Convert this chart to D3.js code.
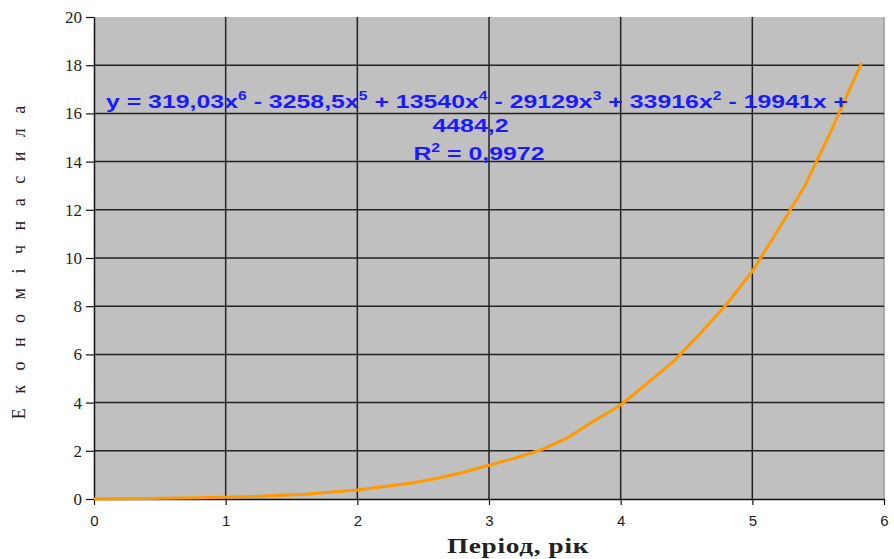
<!DOCTYPE html>
<html>
<head>
<meta charset="utf-8">
<script src="https://cdn.jsdelivr.net/npm/d3@7"></script>
<style>
  body { margin: 0; background: #fff; }
  svg { display: block; }
</style>
</head>
<body>
<div id="chart"></div>
<script>
let width = 790;
let height = 482;
let margins = { top: 17, right: 10, bottom: 60, left: 94 };

// Період, рік (x) and Економічна сила (y)
let periods = [0, 0.4, 0.8, 1.2, 1.6, 2.0, 2.4, 2.6, 2.8, 3.0, 3.2, 3.4, 3.6, 3.8,
               4.0, 4.2, 4.4, 4.6, 4.8, 5.0, 5.2, 5.4, 5.6, 5.83];
let strength = [0, 0.02, 0.05, 0.1, 0.2, 0.37, 0.65, 0.85, 1.1, 1.4, 1.7, 2.05, 2.55, 3.25,
                3.9, 4.8, 5.7, 6.85, 8.05, 9.45, 11.2, 13.0, 15.3, 18.1];
let xTicks = [0, 1, 2, 3, 4, 5, 6];
let yTicks = [0, 2, 4, 6, 8, 10, 12, 14, 16, 18, 20];

let data = periods.map((p, i) => ({ x: p, y: strength[i] }));

let svg = d3.select("#chart")
    .append('svg')
    .attr('width', 894)
    .attr('height', 559)
    .append('g')
    .attr('transform', 'translate(' + margins.left + ',' + margins.top + ')');

var x = d3.scaleLinear().domain([0, 6]).range([0, width]);
var y = d3.scaleLinear().domain([0, 20]).range([height, 0]);

// plot background
svg.append('rect')
    .attr('width', width)
    .attr('height', height)
    .style('fill', '#c0c0c0');

// right border
svg.append('line')
    .attr('x1', width).attr('x2', width)
    .attr('y1', 0).attr('y2', height)
    .style('stroke', '#9a9a9a')
    .style('stroke-width', 1.5);

// gridlines
svg.append('g')
    .selectAll('line')
    .data(yTicks.filter(d => d > 0 && d < 20))
    .enter()
    .append('line')
    .attr('x1', 0).attr('x2', width)
    .attr('y1', d => y(d)).attr('y2', d => y(d))
    .style('stroke', '#222')
    .style('stroke-width', 1.5);
svg.append('g')
    .selectAll('line')
    .data(xTicks.filter(d => d > 0 && d < 6))
    .enter()
    .append('line')
    .attr('x1', d => x(d)).attr('x2', d => x(d))
    .attr('y1', 0).attr('y2', height)
    .style('stroke', '#222')
    .style('stroke-width', 1.5);

// axes
let xAxis = svg.append('g')
    .attr('class', 'xaxis axis')
    .attr('transform', 'translate(0,' + height + ')')
    .call(d3.axisBottom(x).tickValues(xTicks).tickFormat(d3.format('d'))
        .tickSize(6).tickPadding(10).tickSizeOuter(0));
let yAxis = svg.append('g')
    .attr('class', 'yaxis axis')
    .call(d3.axisLeft(y).tickValues(yTicks).tickSize(8).tickPadding(4).tickSizeOuter(0));

[xAxis, yAxis].forEach(a => {
    a.select('.domain').style('stroke', '#111').style('stroke-width', 1.5);
    a.selectAll('.tick line').style('stroke', '#111').style('stroke-width', 1.2);
    a.selectAll('.tick text')
        .style('font-family', 'Liberation Sans, Arial, sans-serif')
        .style('font-size', '15px')
        .style('fill', '#222');
});
yAxis.selectAll('.tick text')
    .style('font-family', 'Liberation Serif, Times New Roman, serif')
    .style('font-size', '17px');

// curve
svg.append('path')
    .datum(data)
    .attr('d', d3.line().x(d => x(d.x)).y(d => y(d.y)))
    .style('fill', 'none')
    .style('stroke', '#ff9900')
    .style('stroke-width', 3)
    .style('stroke-linejoin', 'round');

// trendline equation (text in the source is stretched sideways)
let eq = svg.append('g')
    .attr('transform', 'translate(383,0) scale(1.31,1)')
    .style('font-family', 'Liberation Sans, Arial, sans-serif')
    .style('font-weight', 'bold')
    .style('font-size', '19px')
    .style('fill', '#1a1aff')
    .attr('text-anchor', 'middle');

function writeParts(t, parts) {
    let shift = 0;
    parts.forEach(p => {
        t.append('tspan').attr('dy', shift).text(p[0]);
        shift = 0;
        if (p[1]) {
            t.append('tspan').attr('dy', -8).style('font-size', '12px').text(p[1]);
            shift = 8;
        }
    });
}

let line1 = eq.append('text').attr('x', 0).attr('y', 91);
writeParts(line1, [['y = 319,03x', '6'], [' - 3258,5x', '5'], [' + 13540x', '4'],
                   [' - 29129x', '3'], [' + 33916x', '2'], [' - 19941x +', null]]);
eq.append('text').attr('x', -5).attr('y', 115).text('4484,2');
let line3 = eq.append('text').attr('x', 1.5).attr('y', 143);
writeParts(line3, [['R', '2'], [' = 0,9972', null]]);

// axis titles
svg.append('text')
    .attr('transform', 'translate(424,' + (height + 54) + ') scale(1.3,1)')
    .attr('text-anchor', 'middle')
    .style('font-family', 'Liberation Serif, Times New Roman, serif')
    .style('font-size', '21px')
    .style('font-weight', 'bold')
    .style('letter-spacing', '0.5px')
    .style('fill', '#222')
    .text('Період, рік');

svg.append('text')
    .attr('transform', 'translate(' + (-69) + ',' + 243 + ') rotate(-90)')
    .attr('text-anchor', 'middle')
    .style('font-family', 'Liberation Serif, Times New Roman, serif')
    .style('font-size', '18px')
    .style('fill', '#222')
    .style('letter-spacing', '5px')
    .text('Е к о н о м і ч н а  с и л а');
</script>
</body>
</html>
